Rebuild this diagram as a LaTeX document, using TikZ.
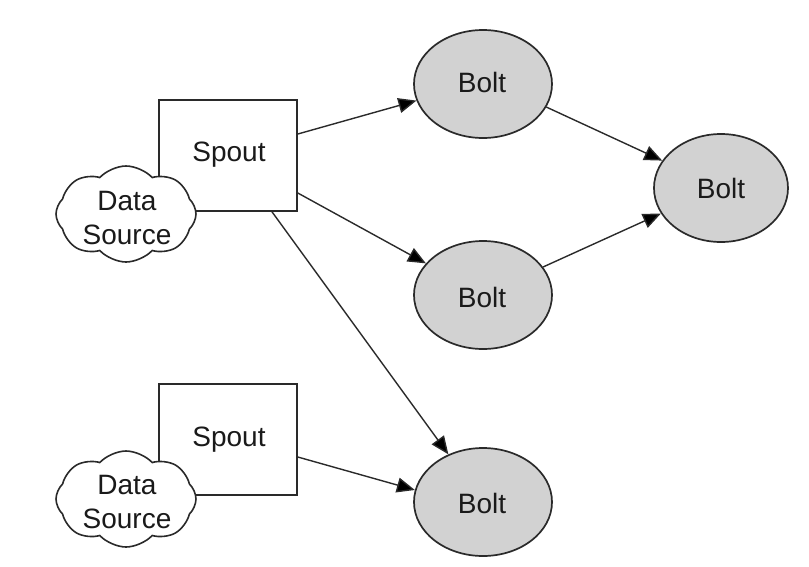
\documentclass[tikz,border=0pt]{standalone}
\usepackage{fontspec}
\setmainfont{Liberation Sans}
\usetikzlibrary{arrows.meta,shapes.geometric,shapes.symbols}
\definecolor{linec}{HTML}{2A2A2A}
\definecolor{boltfill}{HTML}{D2D2D2}
\definecolor{textc}{HTML}{1A1A1A}
\tikzset{
  lbl/.style={font=\fontsize{28}{34}\selectfont, text=textc, align=center, inner sep=0pt},
  spoutbox/.style={draw=linec, line width=1.6pt, fill=white, minimum width=138pt, minimum height=111pt, inner sep=0pt},
  boltnode/.style={ellipse, draw=linec, line width=1.7pt, fill=boltfill, minimum width=138pt, minimum height=108pt, inner sep=0pt},
  srccloud/.style={cloud, cloud puffs=8, cloud puff arc=95, cloud ignores aspect, draw=linec, line width=1.6pt, fill=white, minimum width=140pt, minimum height=96pt, inner sep=0pt},
  conn/.style={draw=linec, line width=1.4pt, -{Triangle[length=18pt,width=15pt,fill=black]}}
}
\begin{document}
\begin{tikzpicture}[x=1pt,y=-1pt]
\useasboundingbox (0,0) rectangle (809,566);
% spouts
\node[spoutbox] (s1) at (228,155.5) {};
\node[lbl] (s1t) at (229,155) {Spout};
\node[spoutbox] (s2) at (228,439.5) {};
\node[lbl] (s2t) at (229,440) {Spout};
% clouds
\node[srccloud] (c1) at (126,214) {};
\node[lbl] (c1t) at (127,218) {Data\\Source};
\node[srccloud] (c2) at (126,499) {};
\node[lbl] (c2t) at (127,502) {Data\\Source};
% bolts
\node[boltnode] (b1) at (483,84) {};
\node[lbl] (b1t) at (482,82) {Bolt};
\node[boltnode] (b2) at (483,295) {};
\node[lbl] (b2t) at (482,297) {Bolt};
\node[boltnode] (b3) at (483,502) {};
\node[lbl] (b3t) at (482,503) {Bolt};
\node[boltnode, minimum width=134pt] (b4) at (721,188) {};
\node[lbl] (b4t) at (721,188) {Bolt};
% connectors
\draw[conn] ([yshift=21.5pt]s1.east) -- (b1.194);
\draw[conn] ([yshift=-37.5pt]s1.east) -- (b2.151);
\draw[conn] ([xshift=44pt]s1.south) -- (b3.126);
\draw[conn] ([yshift=-17.5pt]s2.east) -- (b3.170);
\draw[conn] (b1.-20) -- (b4.155);
\draw[conn] (b2.25) -- (b4.203);
\end{tikzpicture}
\end{document}
